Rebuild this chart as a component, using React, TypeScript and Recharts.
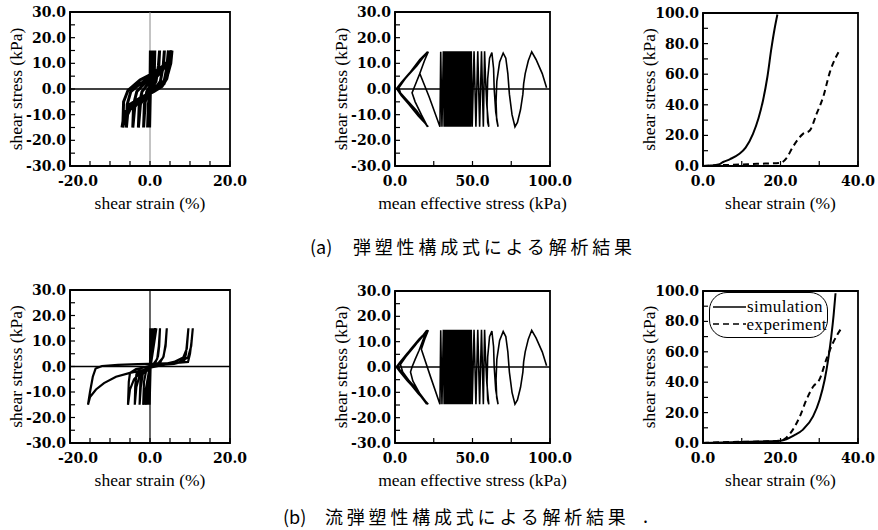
import React from "react";
import { LineChart, Line, XAxis, YAxis, ReferenceLine, ReferenceArea, Legend } from "recharts";

type Pt = [number, number];

const INK = "#000";
const TICK_FONT = "'DejaVu Serif', serif";
const TITLE_FONT = "'Liberation Serif', 'Times New Roman', serif";
const CJK_FONT = "'Noto Sans CJK JP', sans-serif";

// ticks: every entry gets a tick mark, only the *Labels ones get text
const strainTicks = [-20, -15, -10, -5, 0, 5, 10, 15, 20];
const strainLabels = [-20, 0, 20];
const stressTicks = [-30, -25, -20, -15, -10, -5, 0, 5, 10, 15, 20, 25, 30];
const stressLabels = [-30, -20, -10, 0, 10, 20, 30];
const meanTicks = [0, 25, 50, 75, 100];
const meanLabels = [0, 50, 100];
const monoStrainTicks = [0, 10, 20, 30, 40];
const monoStrainLabels = [0, 20, 40];
const monoStressTicks = [0, 10, 20, 30, 40, 50, 60, 70, 80, 90, 100];
const monoStressLabels = [0, 20, 40, 60, 80, 100];
const legendOrder = ["simulation", "experiment"];

// (a) stress-strain, cyclic  [strain %, shear stress kPa]
const loopsA: Pt[] = [
  [0, 0], [0.1, 15], [-0.1, -15], [0.3, 15], [-0.3, -15], [0.6, 15], [-0.6, -15],
  [-0.4, -6], [0, -1], [0.8, 3], [1.1, 8], [1.2, 15],
  [1.0, 8], [0.5, 2], [-0.5, -1.5], [-1.2, -5], [-1.6, -15],
  [-1.4, -6], [-0.8, -1], [0.5, 2.5], [1.8, 5], [2.2, 9], [2.4, 15],
  [2.1, 9], [1.5, 3], [0.3, -0.5], [-1.2, -2.5], [-2.4, -6], [-2.9, -15],
  [-2.7, -6], [-2.0, -1], [-0.5, 2], [1.5, 4.5], [3, 7], [3.4, 10], [3.6, 15],
  [3.3, 9], [2.6, 3], [1.2, 0], [-0.5, -2], [-2.5, -4], [-3.8, -7], [-4.3, -15],
  [-4.1, -6], [-3.3, -1], [-1.5, 2], [0.8, 4.5], [3, 7], [4.3, 10], [4.6, 15],
  [4.3, 9], [3.6, 3.5], [2.3, 0.5], [0.3, -1.5], [-2.2, -3.5], [-4.5, -6.5], [-5.6, -10], [-5.9, -15],
  [-5.7, -6], [-4.8, -1], [-2.5, 2], [0, 4.5], [2.5, 7], [4.6, 10], [5.2, 15],
  [4.9, 9], [4.2, 4], [3, 1], [1, -1], [-1.5, -3], [-4, -5.5], [-6, -9], [-6.8, -15],
  [-6.6, -5], [-5.5, -0.5], [-2.5, 3.5], [0, 5.5], [2.5, 8], [4.8, 11], [5.5, 15],
  [5.2, 10], [4.5, 6], [3.5, 2], [2, 0], [0, -1.5], [-2.5, -3.5], [-5, -6], [-6.5, -10], [-7, -15],
];

// (b) stress-strain, cyclic
const loopsB: Pt[] = [
  [0, 0], [0.1, 15], [-0.1, -15], [0.4, 15], [-0.4, -15], [0.7, 15], [-0.7, -15],
  [1.0, 15], [-1.0, -15], [1.3, 15], [-1.3, -15], [1.6, 15], [-1.7, -15],
  [-1.5, -6], [-1, -2], [0, -0.5], [1.2, 1], [2, 4], [2.3, 8], [2.5, 15],
  [2.2, 8], [1.8, 3], [0.8, 0.8], [-1, -0.8], [-2, -2.5], [-2.4, -6], [-2.6, -15],
  [-2.3, -8], [-1.8, -3], [-0.5, -0.5], [2, 1.2], [3.3, 3.5], [3.9, 8], [4.2, 15],
  [3.9, 9], [3.4, 4], [2.5, 1.5], [0, 0.3], [-2.5, -0.8], [-3.4, -3], [-3.7, -8], [-3.8, -15],
  [-3.4, -8], [-2.5, -3], [-0.5, -0.5], [3, 0.8], [6, 1.8], [8.3, 3.5], [9.2, 7], [9.6, 15],
  [9.3, 10], [9, 5], [8.5, 2], [6, 1], [2, 0.5], [-1, -0.2], [-3.5, -1], [-5, -2.5], [-5.3, -6], [-5.5, -15],
  [-5, -9], [-4, -5], [-2.5, -2.5], [0, -0.5], [3, 0.5], [7, 1.5], [9.5, 3.5], [10.3, 8], [10.7, 15],
  [10.4, 10], [10, 5], [9.5, 1.8], [6, 1.3], [2, 1.1], [-3, 0.9], [-8, 0.6], [-12, 0.2],
  [-13.6, -0.8], [-14.3, -4], [-15, -10], [-15.5, -15],
  [-15, -12], [-13.5, -9], [-11.5, -6.5], [-8.5, -4], [-5, -2.5], [-2, -1.5], [0, -0.8],
];

// stress path, p' > 29 kPa (same in both rows)  [mean effective stress kPa, shear stress kPa]
const pathRight: Pt[] = [
  [97.8, 0.5], [95, 6], [91, 11.5], [88.2, 14.5], [86, 11], [84, 6], [83, 2], [82.5, -2],
  [81, -8], [79, -13], [77.4, -14.7],
  [75.5, -10], [73.8, -2], [72.8, 6], [71.5, 12], [69.8, 14], [67.5, 10.5], [65.7, 3],
  [65.2, -5], [65.6, -12], [66.5, -14.7],
  [65, -9], [64, 0], [63.6, 8], [62.5, 14.2], [61, 12], [59.8, 4], [59.4, -6], [59.8, -13], [60.5, -14.7],
  [59.2, -6], [58.4, 4], [57.8, 14.7], [57, -14.7], [55.8, 14.7], [54.6, -14.7], [53.4, 14.7],
  [52.2, -14.7], [51, 14.7], [49.8, -14.7],
  [49.2, 14.7], [48.7, -14.7], [48.2, 14.7], [47.7, -14.7], [47.2, 14.7], [46.7, -14.7],
  [46.2, 14.7], [45.7, -14.7], [45.2, 14.7], [44.7, -14.7], [44.2, 14.7], [43.7, -14.7],
  [43.2, 14.7], [42.7, -14.7], [42.2, 14.7], [41.7, -14.7], [41.2, 14.7], [40.7, -14.7],
  [40.2, 14.7], [39.7, -14.7], [39.2, 14.7], [38.7, -14.7], [38.2, 14.7], [37.7, -14.7],
  [37.2, 14.7], [36.7, -14.7], [36.2, 14.7], [35.7, -14.7], [35.2, 14.7], [34.7, -14.7],
  [34.2, 14.7], [33.7, -14.7], [33.2, 14.7], [32.7, -14.7], [32.2, 14.7], [31.7, -14.7],
  [31.2, 14.7], [30.3, -14.7], [29.5, 14.5], [29, -14.7],
];

// near-zero p' butterfly
const butterflyA: Pt[] = [
  [22, -3], [16, 6], [19, 11], [21.5, 14.5],
  [15, 10], [9, 6], [4, 2.5], [1, 0.2], [4, -2.5], [9, -6], [15, -10.5], [21.5, -14.7],
  [16, -11], [10, -6.5], [5, -3], [2, -0.5], [3, 1.5], [8, 5], [14, 9], [21, 14.5],
  [16, 11.5], [11, 7.5], [6, 3.5], [2.5, 0.5], [3.5, -1.5], [8, -4.5], [14, -8.5], [21, -14.7],
  [17, -10], [13, -5], [11, -1.5], [12, 0], [14, 3], [16, 6],
];
const butterflyB: Pt[] = [
  [23, -4], [17, 7], [19.5, 11.5], [21.5, 14.5],
  [14, 9.5], [8, 5.5], [3, 1.8], [0.8, 0], [3, -1.8], [8, -5.5], [14, -9.5], [21.5, -14.7],
  [15, -10.5], [9, -6], [4, -2.5], [1.5, -0.3], [3.5, 1.8], [9, 6], [15, 10], [21.2, 14.5],
  [15.5, 11], [10, 7], [5, 3], [2, 0.5], [3, -1], [7, -4], [13, -8], [21.2, -14.7],
  [16, -10.5], [11.5, -5.5], [10, -2], [11, 0], [13, 3], [15.5, 6.5], [18, 10.5], [20.5, 14.5],
  [13, 8.5], [7, 4], [3.5, 1], [5, -2], [11, -7], [20.5, -14.7],
];

// monotonic loading  [strain %, shear stress kPa]
const simA: Pt[] = [
  [0, 0], [2, 0.3], [4, 1], [5.2, 2.6], [7, 4.5], [9.4, 8], [11, 12], [12.9, 21], [14.3, 31],
  [15.5, 43], [16.6, 58], [17.6, 76], [18.5, 90], [19.2, 99],
];
const expA: Pt[] = [
  [0, 0], [4, 0.5], [8, 0.8], [12, 1.2], [16, 1.6], [20, 2], [21.5, 5], [23.2, 12.5],
  [25.8, 21], [27.5, 23], [29.3, 34], [31, 45], [32.7, 61], [35.3, 76],
];
const simB: Pt[] = [
  [0, 0], [5, 0.3], [10, 0.6], [15, 1], [20, 1.5], [21.5, 2.5], [23.5, 5], [25.8, 8.8],
  [28.4, 17.5], [30.1, 28.5], [31.4, 41.6], [32.3, 54.8], [33.1, 70], [33.7, 84], [34.2, 98.5],
];
const expB: Pt[] = [
  [0, 0], [5, 0.5], [10, 0.8], [15, 1], [20, 1.5], [21.5, 3.5], [23.2, 8.8], [25, 17.5],
  [26.7, 28.5], [28.4, 37], [30.1, 42], [31.8, 54.8], [33.5, 65.6], [35.7, 75.5],
];

const pts = (arr: Pt[]) => arr.map(([x, y]) => ({ x, y }));

const Y_AXIS_W = 70;
const X_AXIS_H = 50;
const PAD_T = 12;
const PAD_R = 32;

const axisLine = { stroke: INK, strokeWidth: 1.8 };
const tickLine = { stroke: INK, strokeWidth: 1.2 };
const tickText = { fontFamily: TICK_FONT, fontSize: 14, fontWeight: 700, fill: INK };
const titleText = { fontFamily: TITLE_FONT, fontSize: 17.5, fill: INK };

const yTick = (labels: number[]) => (p: any) => {
  const v = p.payload.value;
  if (!labels.includes(v)) return <g />;
  return (
    <text x={p.x} y={p.y} dy="0.36em" textAnchor="end" style={tickText}>
      {v.toFixed(1)}
    </text>
  );
};

const xTick = (labels: number[]) => (p: any) => {
  const v = p.payload.value;
  if (!labels.includes(v)) return <g />;
  return (
    <text x={p.x + (v < 0 ? 8 : 0)} y={p.y} dy="0.74em" textAnchor="middle" style={tickText}>
      {v.toFixed(1)}
    </text>
  );
};

const xTitle = (text: string) => (p: any) => {
  const vb = p.viewBox || {};
  return (
    <text x={vb.x + vb.width / 2} y={vb.y + 37} textAnchor="middle" dominantBaseline="central" style={titleText}>
      {text}
    </text>
  );
};

const yTitle = (text: string) => (p: any) => {
  const vb = p.viewBox || {};
  const cx = vb.x + vb.width - 54;
  const cy = vb.y + vb.height / 2;
  return (
    <text x={cx} y={cy} transform={`rotate(-90, ${cx}, ${cy})`} textAnchor="middle" dominantBaseline="central" style={titleText}>
      {text}
    </text>
  );
};

type PanelProps = {
  left: number;
  top: number;
  plotW: number;
  plotH: number;
  xDomain: [number, number];
  yDomain: [number, number];
  xTicks: number[];
  xLabels: number[];
  yTicks: number[];
  yLabels: number[];
  xName: string;
  yName: string;
  children: React.ReactNode;
};

function Panel({ left, top, plotW, plotH, xDomain, yDomain, xTicks, xLabels, yTicks, yLabels, xName, yName, children }: PanelProps) {
  const width = plotW + Y_AXIS_W + PAD_R;
  const height = plotH + PAD_T + X_AXIS_H;
  return (
    <div style={{ position: "absolute", left, top, width, height }}>
      <LineChart width={width} height={height} margin={{ top: PAD_T, right: PAD_R, left: 0, bottom: 0 }}>
        <XAxis
          type="number"
          dataKey="x"
          domain={xDomain}
          ticks={xTicks}
          interval={0}
          allowDataOverflow
          height={X_AXIS_H}
          tickSize={-5}
          tickMargin={15}
          axisLine={axisLine}
          tickLine={tickLine}
          tick={xTick(xLabels)}
          label={xTitle(xName)}
        />
        <YAxis
          type="number"
          dataKey="y"
          domain={yDomain}
          ticks={yTicks}
          interval={0}
          allowDataOverflow
          width={Y_AXIS_W}
          tickSize={-5}
          tickMargin={9}
          axisLine={axisLine}
          tickLine={tickLine}
          tick={yTick(yLabels)}
          label={yTitle(yName)}
        />
        <ReferenceArea x1={xDomain[0]} x2={xDomain[1]} y1={yDomain[0]} y2={yDomain[1]} fill="none" stroke={INK} strokeWidth={1.8} />
        {children}
      </LineChart>
    </div>
  );
}

const lineProps = { dataKey: "y", type: "linear" as const, stroke: INK, dot: false, isAnimationActive: false };

const renderLegend = (props: any) => {
  const items = [...(props.payload || [])].sort(
    (a: any, b: any) => legendOrder.indexOf(a.value) - legendOrder.indexOf(b.value)
  );
  return (
    <div
      style={{
        width: 119,
        height: 46,
        boxSizing: "border-box",
        border: "1.5px solid #000",
        borderRadius: 18,
        background: "#fff",
        padding: "5px 0 0 3px",
      }}
    >
      {items.map((entry: any) => {
        const dash = entry.payload?.strokeDasharray ?? (entry.value === "experiment" ? "5 3" : undefined);
        return (
          <div key={entry.value} style={{ display: "flex", alignItems: "center", height: 17.5 }}>
            <svg width={33} height={4}>
              <line x1={0} y1={2} x2={33} y2={2} stroke={INK} strokeWidth={1.5} strokeDasharray={dash} />
            </svg>
            <span style={{ fontFamily: TITLE_FONT, fontSize: 17, letterSpacing: 0.4, lineHeight: "17px", marginLeft: 1 }}>
              {entry.value}
            </span>
          </div>
        );
      })}
    </div>
  );
};

const captionStyle: React.CSSProperties = {
  position: "absolute",
  fontFamily: CJK_FONT,
  fontSize: 18,
  lineHeight: "20px",
  color: INK,
  whiteSpace: "nowrap",
};

export default function App() {
  return (
    <div style={{ position: "absolute", left: 0, top: 0, width: 878, height: 530, background: "#fff", overflow: "hidden" }}>
      {/* row (a) */}
      <Panel left={0} top={0} plotW={160} plotH={154} xDomain={[-20, 20]} yDomain={[-30, 30]}
        xTicks={strainTicks} xLabels={strainLabels} yTicks={stressTicks} yLabels={stressLabels}
        xName="shear strain (%)" yName="shear stress (kPa)">
        <ReferenceLine x={0} stroke="#888" strokeWidth={1} />
        <ReferenceLine y={0} stroke={INK} strokeWidth={1.4} />
        <Line {...lineProps} data={pts(loopsA)} strokeWidth={3} />
      </Panel>
      <Panel left={325} top={0} plotW={155} plotH={154} xDomain={[0, 100]} yDomain={[-30, 30]}
        xTicks={meanTicks} xLabels={meanLabels} yTicks={stressTicks} yLabels={stressLabels}
        xName="mean effective stress (kPa)" yName="shear stress (kPa)">
        <ReferenceLine y={0} stroke={INK} strokeWidth={1.4} />
        <Line {...lineProps} data={pts([...pathRight, ...butterflyA])} strokeWidth={1.6} />
      </Panel>
      <Panel left={633} top={1} plotW={155} plotH={153} xDomain={[0, 40]} yDomain={[0, 100]}
        xTicks={monoStrainTicks} xLabels={monoStrainLabels} yTicks={monoStressTicks} yLabels={monoStressLabels}
        xName="shear strain (%)" yName="shear stress (kPa)">
        <Line {...lineProps} type="monotone" data={pts(simA)} strokeWidth={2} name="simulation" />
        <Line {...lineProps} type="monotone" data={pts(expA)} strokeWidth={2} strokeDasharray="6 4" name="experiment" />
      </Panel>

      {/* row (b) */}
      <Panel left={0} top={278} plotW={160} plotH={153} xDomain={[-20, 20]} yDomain={[-30, 30]}
        xTicks={strainTicks} xLabels={strainLabels} yTicks={stressTicks} yLabels={stressLabels}
        xName="shear strain (%)" yName="shear stress (kPa)">
        <ReferenceLine x={0} stroke={INK} strokeWidth={1.2} />
        <ReferenceLine y={0} stroke={INK} strokeWidth={1.4} />
        <Line {...lineProps} data={pts(loopsB)} strokeWidth={2.2} />
      </Panel>
      <Panel left={325} top={279} plotW={155} plotH={152} xDomain={[0, 100]} yDomain={[-30, 30]}
        xTicks={meanTicks} xLabels={meanLabels} yTicks={stressTicks} yLabels={stressLabels}
        xName="mean effective stress (kPa)" yName="shear stress (kPa)">
        <ReferenceLine y={0} stroke={INK} strokeWidth={1.4} />
        <Line {...lineProps} data={pts([...pathRight, ...butterflyB])} strokeWidth={1.6} />
      </Panel>
      <Panel left={633} top={279} plotW={155} plotH={152} xDomain={[0, 40]} yDomain={[0, 100]}
        xTicks={monoStrainTicks} xLabels={monoStrainLabels} yTicks={monoStressTicks} yLabels={monoStressLabels}
        xName="shear strain (%)" yName="shear stress (kPa)">
        <Line {...lineProps} type="monotone" data={pts(simB)} strokeWidth={2} name="simulation" legendType="line" />
        <Line {...lineProps} type="monotone" data={pts(expB)} strokeWidth={2} strokeDasharray="6 4" name="experiment" legendType="line" />
        <Legend
          layout="vertical"
          align="center"
          verticalAlign="middle"
          content={renderLegend}
          wrapperStyle={{ left: 76, top: 13, width: 119, height: 46 }}
        />
      </Panel>

      {/* captions */}
      <span style={{ ...captionStyle, left: 310, top: 236 }}>(a)</span>
      <span style={{ ...captionStyle, left: 353, top: 236, letterSpacing: 3.8 }}>弾塑性構成式による解析結果</span>
      <span style={{ ...captionStyle, left: 283, top: 506 }}>(b)</span>
      <span style={{ ...captionStyle, left: 325, top: 506, letterSpacing: 3.8 }}>流弾塑性構成式による解析結果</span>
      <span style={{ ...captionStyle, left: 643, top: 505 }}>.</span>
    </div>
  );
}
